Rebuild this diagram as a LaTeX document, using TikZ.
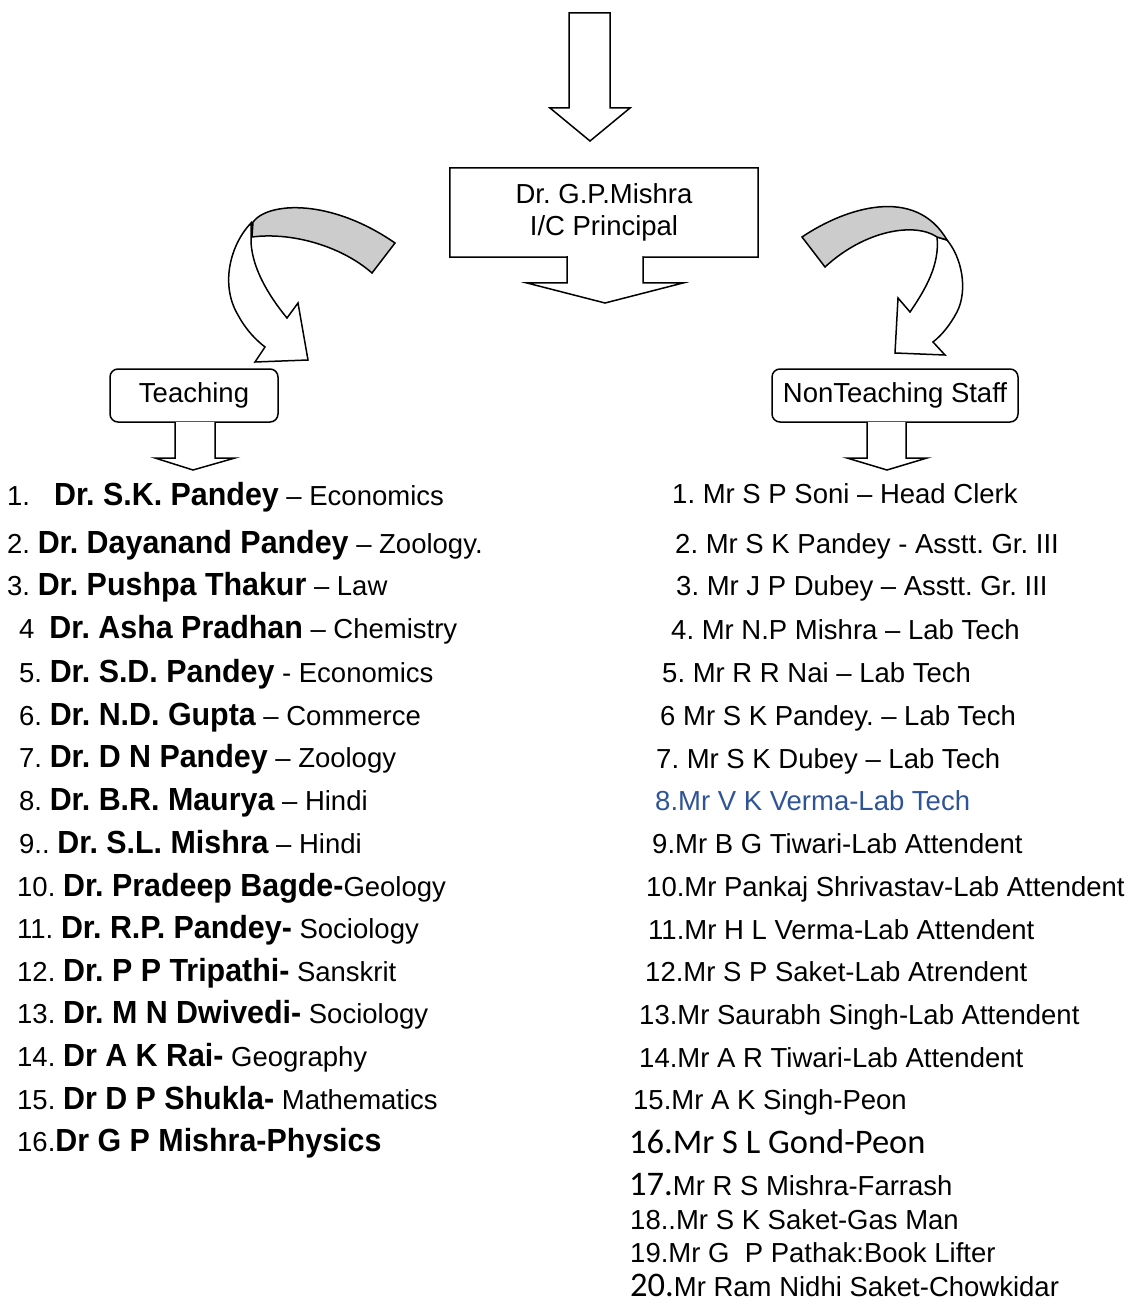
\documentclass[tikz,border=0pt]{standalone}
\usepackage{fontspec}
\setmainfont{Liberation Sans}
\newfontfamily\namefont{Liberation Sans}[FakeStretch=0.95]
\newfontfamily\calfont{Carlito}
\usepackage{tikz}
\definecolor{staffblue}{RGB}{47,84,150}
\newcommand{\drname}[1]{{\namefont\bfseries\fontsize{32}{36}\selectfont #1}}
\newcommand{\bignum}[1]{{\calfont\fontsize{34.5}{38}\selectfont #1}}
\frenchspacing

\begin{document}
\begin{tikzpicture}[x=1pt, y=-1pt,
        every node/.style={font=\fontsize{27.5}{32}\selectfont},
        headbox/.style={minimum width=308pt, minimum height=89pt, align=center, inner sep=0pt},
        groupbox/.style={draw, rounded corners=8pt, minimum height=53pt, inner sep=0pt, line width=1.5pt},
        blockarrow/.style={draw, fill=white, line width=1.5pt, line join=miter},
        ribbon/.style={draw, fill=black!20, line width=1.5pt},
        entry/.style={anchor=base west, inner sep=0pt}
        ]
        \useasboundingbox (0,0) rectangle (1132,1305);

        % head of the chart
        \draw[blockarrow] (569,13) -- (610,13) -- (610,108) -- (630,108) -- (590,141) -- (550,108) -- (569,108) -- cycle;
        \node[headbox]                      (pr)    at (604,212.5)  {Dr. G.P.Mishra\\I/C Principal};
        \draw[line width=1.5pt, line join=miter] (pr.north west) -- (pr.north east) -- (pr.south east) -- (643,257) -- (643,283) -- (683,283)
            -- (605,303) -- (527,283) -- (567,283) -- (567,257) -- (pr.south west) -- cycle;

        % curved arrows
        \draw[blockarrow] (251,223) .. controls (230,245) and (220,285) .. (238,315) .. controls (246,330) and (256,340) .. (265,347)
            -- (255,362) -- (308,360) -- (298,303) -- (287,318) .. controls (268,295) and (250,265) .. (251,237) -- cycle;
        \draw[ribbon] (253,222) .. controls (268,202) and (330,198) .. (395,243) -- (372,273) .. controls (340,245) and (290,232) .. (252,237) -- cycle;
        \draw[blockarrow] (947,240) .. controls (962,258) and (968,290) .. (957,312) .. controls (950,325) and (942,335) .. (933,342)
            -- (945,355) -- (895,353) -- (898,298) -- (910,312) .. controls (925,290) and (940,265) .. (937,237) -- cycle;
        \draw[ribbon] (802,237) .. controls (845,208) and (915,185) .. (947,240) -- (937,237) .. controls (915,222) and (865,230) .. (825,267) -- cycle;

        % groups
        \node[groupbox, minimum width=168pt] (teach)    at (194,395.5)  {Teaching};
        \node[groupbox, minimum width=246pt] (nonteach) at (895,395.5)  {NonTeaching Staff};
        \draw[blockarrow] (175,422) -- (175,458) -- (155,458) -- (193,470) -- (235,458) -- (215,458) -- (215,422);
        \draw[blockarrow] (867,422) -- (867,458) -- (847,458) -- (887,470) -- (927,458) -- (906,458) -- (906,422);

        % teaching staff
        \node[entry] (t1)  at (7,505)    {1.\hspace{24pt}\drname{Dr. S.K. Pandey} – Economics};
        \node[entry] (t2)  at (7,553)    {2. \drname{Dr. Dayanand Pandey} – Zoology.};
        \node[entry] (t3)  at (7,595)    {3. \drname{Dr. Pushpa Thakur} – Law};
        \node[entry] (t4)  at (19,638)   {4\hspace{15pt}\drname{Dr. Asha Pradhan} – Chemistry};
        \node[entry] (t5)  at (19,682)   {5. \drname{Dr. S.D. Pandey} - Economics};
        \node[entry] (t6)  at (19,725)   {6. \drname{Dr. N.D. Gupta} – Commerce};
        \node[entry] (t7)  at (19,767)   {7. \drname{Dr. D N Pandey} – Zoology};
        \node[entry] (t8)  at (19,810)   {8. \drname{Dr. B.R. Maurya} – Hindi};
        \node[entry] (t9)  at (19,853)   {9.. \drname{Dr. S.L. Mishra} – Hindi};
        \node[entry] (t10) at (17,896)   {10. \drname{Dr. Pradeep Bagde-}Geology};
        \node[entry] (t11) at (17,938)   {11. \drname{Dr. R.P. Pandey-} Sociology};
        \node[entry] (t12) at (17,981)   {12. \drname{Dr. P P Tripathi-} Sanskrit};
        \node[entry] (t13) at (17,1023)  {13. \drname{Dr. M N Dwivedi-} Sociology};
        \node[entry] (t14) at (17,1066)  {14. \drname{Dr A K Rai-} Geography};
        \node[entry] (t15) at (17,1109)  {15. \drname{Dr D P Shukla-} Mathematics};
        \node[entry] (t16) at (17,1151)  {16.\drname{Dr G P Mishra-Physics}};

        % non teaching staff
        \node[entry] (s1)  at (672,503)  {1. Mr S P Soni – Head Clerk};
        \node[entry] (s2)  at (675,553)  {2. Mr S K Pandey - Asstt. Gr. III};
        \node[entry] (s3)  at (676,595)  {3. Mr J P Dubey – Asstt. Gr. III};
        \node[entry] (s4)  at (671,639)  {4. Mr N.P Mishra – Lab Tech};
        \node[entry] (s5)  at (662,682)  {5. Mr R R Nai – Lab Tech};
        \node[entry] (s6)  at (660,725)  {6 Mr S K Pandey. – Lab Tech};
        \node[entry] (s7)  at (656,768)  {7. Mr S K Dubey – Lab Tech};
        \node[entry, text=staffblue] (s8) at (655,810) {8.Mr V K Verma-Lab Tech};
        \node[entry] (s9)  at (652,853)  {9.Mr B G Tiwari-Lab Attendent};
        \node[entry] (s10) at (646,896)  {10.Mr Pankaj Shrivastav-Lab Attendent};
        \node[entry] (s11) at (648,939)  {11.Mr H L Verma-Lab Attendent};
        \node[entry] (s12) at (645,981)  {12.Mr S P Saket-Lab Atrendent};
        \node[entry] (s13) at (639,1024) {13.Mr Saurabh Singh-Lab Attendent};
        \node[entry] (s14) at (639,1067) {14.Mr A R Tiwari-Lab Attendent};
        \node[entry] (s15) at (633,1109) {15.Mr A K Singh-Peon};
        \node[entry] (s16) at (629,1153) {\bignum{16.Mr S L Gond-Peon}};
        \node[entry] (s17) at (629,1195) {\bignum{17.}Mr R S Mishra-Farrash};
        \node[entry] (s18) at (630,1229) {18..Mr S K Saket-Gas Man};
        \node[entry] (s19) at (630,1262) {19.Mr G\ \ P Pathak:Book Lifter};
        \node[entry] (s20) at (630,1296) {\bignum{20.}Mr Ram Nidhi Saket-Chowkidar};
\end{tikzpicture}
\end{document}
